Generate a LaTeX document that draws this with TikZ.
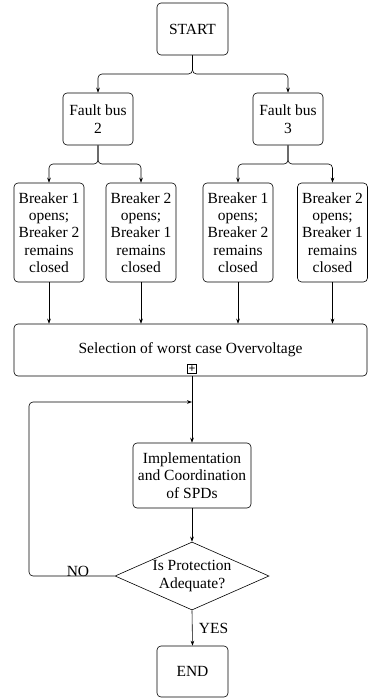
\documentclass[tikz,border=0pt]{standalone}
\usepackage{fontspec}
\setmainfont{Liberation Serif}
\usetikzlibrary{calc, shapes.geometric, arrows.meta}
\tikzset{
    txt/.style={font=\fontsize{15.5}{17.4}\selectfont},
    blk/.style={draw, rounded corners=4pt, align=center, inner sep=1pt, txt},
    decide/.style={draw, diamond, aspect=2.26, align=center, inner sep=-2pt,
        minimum width=154pt, minimum height=68pt, txt},
    arr/.style={-{Stealth[length=5pt,width=3.6pt]}, rounded corners=4pt}
}

\begin{document}
\begin{tikzpicture}[x=1pt, y=-1pt, line width=0.6pt]
\useasboundingbox (0,0) rectangle (368,699);

% Start und Fehlerfaelle
\node[blk, minimum width=71pt, minimum height=52pt] (start) at (192.5,29) {START};
\node[blk, minimum width=70pt, minimum height=52pt] (f2) at (98,119) {Fault bus\\2};
\node[blk, minimum width=70pt, minimum height=52pt] (f3) at (288,119) {Fault bus\\3};

% Schalter
\node[blk, minimum width=70pt, minimum height=99pt] (b1) at (49,232.5)
    {Breaker 1\\opens;\\Breaker 2\\remains\\closed};
\node[blk, minimum width=70pt, minimum height=99pt] (b2) at (141,232.5)
    {Breaker 2\\opens;\\Breaker 1\\remains\\closed};
\node[blk, minimum width=70pt, minimum height=99pt] (b3) at (238,232.5)
    {Breaker 1\\opens;\\Breaker 2\\remains\\closed};
\node[blk, minimum width=70pt, minimum height=99pt] (b4) at (332.5,232.5)
    {Breaker 2\\opens;\\Breaker 1\\remains\\closed};

% Auswahl
\node[blk, minimum width=353pt, minimum height=52pt] (sel) at (190.5,350)
    {Selection of worst case Overvoltage};
\node[draw, minimum size=9pt, inner sep=0pt, font=\fontsize{12}{12}\selectfont\bfseries]
    (plus) at (192,369) {+};

% SPDs und Entscheidung
\node[blk, minimum width=118pt, minimum height=65pt] (impl) at (192,475.5)
    {Implementation\\and Coordination\\of SPDs};
\node[decide] (dec) at (192,576) {Is Protection\\Adequate?};
\node[blk, minimum width=71pt, minimum height=51pt] (end) at (192.5,671.5) {END};

% Verbindungen
\draw[arr] (start.south) -- ($(start.south)!.5!(start.south|-f2.north)$) -| (f2.north);
\draw[arr] (start.south) -- ($(start.south)!.5!(start.south|-f3.north)$) -| (f3.north);
\draw[arr] (f2.south) -- ($(f2.south)!.5!(f2.south|-b1.north)$) -| (b1.north);
\draw[arr] (f2.south) -- ($(f2.south)!.5!(f2.south|-b2.north)$) -| (b2.north);
\draw[arr] (f3.south) -- ($(f3.south)!.5!(f3.south|-b3.north)$) -| (b3.north);
\draw[arr] (f3.south) -- ($(f3.south)!.5!(f3.south|-b4.north)$) -| (b4.north);
\foreach \b in {b1,b2,b3,b4}
    \draw[arr] (\b.south) -- (\b.south |- sel.north);

\draw[arr] (impl.north |- sel.south) -- (impl.north);
\draw[arr] (impl.south) -- (dec.north);
\draw[arr] (dec.south) -- node[txt, right=3pt, pos=0.5] (yes) {YES} (end.north);

% Rueckfuehrung
\coordinate (loop) at (29,402);
\draw[arr] (dec.west) -| (loop) -- (loop -| impl.north);
\node[txt] (no) at (78,571) {NO};
\end{tikzpicture}
\end{document}
